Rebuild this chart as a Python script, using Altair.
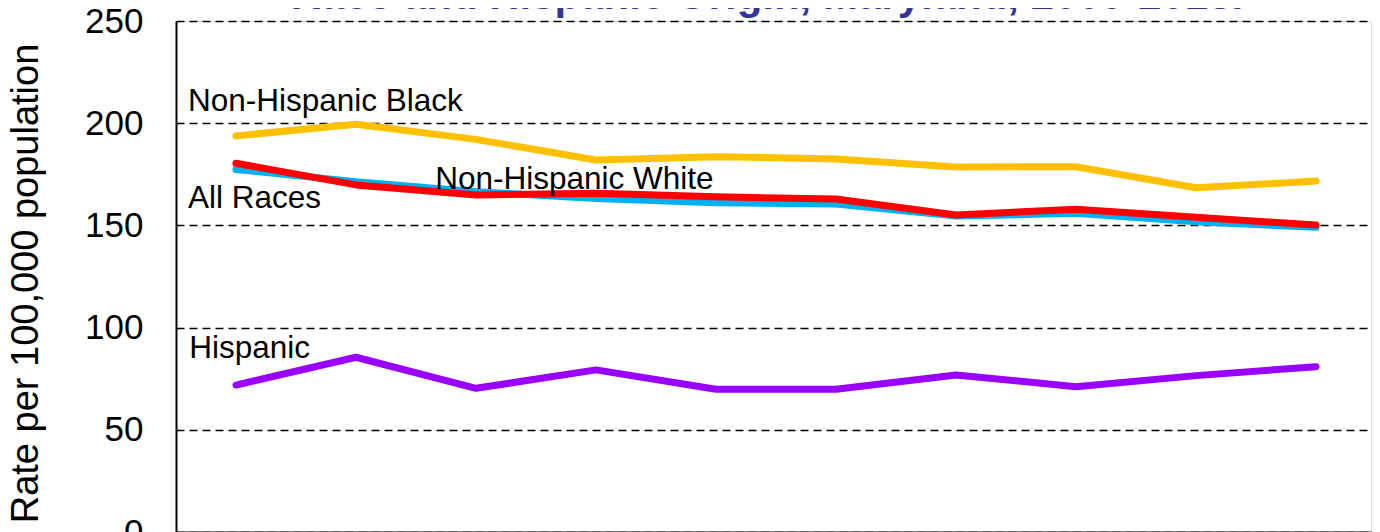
import altair as alt
import pandas as pd

# ---- data ----
years = list(range(2009, 2019))
nh_black = [193.8, 199.5, 192.1, 182.0, 183.6, 182.5, 178.6, 178.7, 168.4, 171.7]
nh_white = [177.4, 171.4, 166.5, 163.2, 161.1, 160.5, 154.6, 155.9, 151.8, 149.1]
all_races = [180.4, 169.8, 164.9, 165.7, 164.0, 162.9, 155.1, 157.9, 154.0, 150.2]
hispanic = [71.9, 85.5, 70.3, 79.3, 69.8, 69.8, 76.8, 71.1, 76.5, 80.9]

series_names = ["Non-Hispanic Black", "Non-Hispanic White", "All Races", "Hispanic"]
series_values = [nh_black, nh_white, all_races, hispanic]
series_colors = ["#FFC000", "#00B0F0", "#FF0000", "#9900FF"]

# in-chart series labels (anchored in data coordinates: year, rate)
label_text = ["Non-Hispanic Black", "All Races", "Non-Hispanic White", "Hispanic"]
label_year = [2008.6, 2008.6, 2010.66, 2008.61]
label_rate = [206.0, 158.5, 167.8, 85.1]

y_ticks = [0, 50, 100, 150, 200, 250]
title_text = "Race and Hispanic Origin, Maryland, 2009-2018."
y_title = "Rate per 100,000 population"

FONT = "Liberation Sans"

rows = []
for name, vals in zip(series_names, series_values):
    for yr, v in zip(years, vals):
        rows.append({"series": name, "year": yr, "rate": v})
df = pd.DataFrame(rows)

labels_df = pd.DataFrame({"label": label_text, "year": label_year, "rate": label_rate})
title_df = pd.DataFrame({"t": [title_text]})

x_scale = alt.Scale(domain=[2008.5, 2018.458], nice=False, zero=False)
y_scale = alt.Scale(domain=[0, 250], nice=False)

x_enc = alt.X("year:Q", scale=x_scale,
              axis=alt.Axis(values=years, format="d", title=None, grid=False,
                            labelFontSize=35, labelFont=FONT, labelColor="black",
                            domainColor="black", domainWidth=2, ticks=False,
                            labelPadding=10))
y_enc = alt.Y("rate:Q", scale=y_scale,
              axis=alt.Axis(values=y_ticks, title=y_title, grid=True,
                            gridDash=[8, 5], gridColor="black", gridWidth=1.5,
                            domainColor="black", domainWidth=2, ticks=False,
                            labelPadding=33, labelFontSize=35, labelFont=FONT,
                            labelColor="black",
                            titleFont=FONT, titleFontSize=38, titleFontWeight="normal",
                            titleColor="black", titleAngle=270, titleAlign="center",
                            titleBaseline="alphabetic", titleX=-139, titleY=262))

layers = []
for i, (name, color) in enumerate(zip(series_names, series_colors)):
    base = alt.Chart(df).transform_filter(alt.datum.series == name).mark_line(
        color=color, strokeWidth=7, strokeCap="round", strokeJoin="round"
    )
    if i == 0:
        layers.append(base.encode(x=x_enc, y=y_enc))
    else:
        layers.append(base.encode(x=alt.X("year:Q", scale=x_scale),
                                  y=alt.Y("rate:Q", scale=y_scale)))

text_layer = alt.Chart(labels_df).mark_text(
    font=FONT, fontSize=31.5, color="black", align="left", baseline="alphabetic"
).encode(x=alt.X("year:Q", scale=x_scale), y=alt.Y("rate:Q", scale=y_scale), text="label:N")

title_layer = alt.Chart(title_df).mark_text(
    font=FONT, fontSize=42, fontWeight="bold", color="#333399",
    align="center", baseline="alphabetic"
).encode(x=alt.value(591), y=alt.value(-12), text="t:N")

chart = alt.layer(*layers, text_layer, title_layer).properties(
    width=1195, height=511,
    autosize=alt.AutoSizeParams(type="none"),
    padding={"left": 168, "top": 13, "right": 1, "bottom": 50},
).configure_view(stroke="black", strokeWidth=2).configure(background="white")

chart.save("out.html", embed_options={"renderer": "svg", "actions": False})
